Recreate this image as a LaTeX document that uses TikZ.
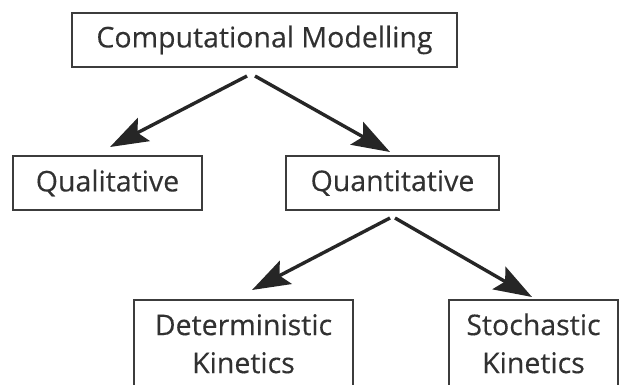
\documentclass[tikz,border=0pt]{standalone}
\usepackage{fontspec}
\setmainfont{Open Sans}
\newfontfamily\labelfont{Open Sans}[FakeBold=0.3]
\usetikzlibrary{arrows.meta}
\definecolor{ink}{HTML}{262626}
\begin{document}
\begin{tikzpicture}[x=1pt,y=-1pt,
  box/.style={draw=ink!90, line width=2pt, rectangle, inner sep=0pt,
    text=ink!95, align=center, font=\labelfont\fontsize{28.5}{38}\selectfont},
  arr/.style={draw=ink, line width=3.4pt,
    -{Stealth[length=38pt,width=26pt,inset=7pt]}}]
\useasboundingbox (0,0) rectangle (619,385);
\clip (0,0) rectangle (619,385);
% boxes
\node[box, minimum width=385pt, minimum height=54pt] (cm) at (264.5,40) {Computational Modelling};
\node[box, minimum width=189pt, minimum height=54pt] (ql) at (107.5,183) {Qualitative};
\node[box, minimum width=213pt, minimum height=54pt] (qn) at (392.5,183) {Quantitative};
\node[box, minimum width=219pt, inner ysep=8.5pt, anchor=north] (dk) at (243.5,299)
  {\strut Deterministic\\Kinetics\rule[-25pt]{0pt}{0pt}};
\node[box, minimum width=169pt, inner ysep=8.5pt, anchor=north] (sk) at (533.5,299)
  {\strut Stochastic\\Kinetics\rule[-25pt]{0pt}{0pt}};
% connectors
\draw[arr] ([xshift=-17.5pt,yshift=-8pt]cm.south) -- ([xshift=2.5pt,yshift=8pt]ql.north);
\draw[arr] ([xshift=-9.5pt,yshift=-8pt]cm.south) -- ([xshift=-2.5pt,yshift=3pt]qn.north);
\draw[arr] ([xshift=-2.5pt,yshift=-7pt]qn.south) -- ([xshift=8.5pt,yshift=9pt]dk.north);
\draw[arr] ([xshift=2.5pt,yshift=-7pt]qn.south) -- ([xshift=-1.5pt,yshift=2pt]sk.north);
\end{tikzpicture}
\end{document}
